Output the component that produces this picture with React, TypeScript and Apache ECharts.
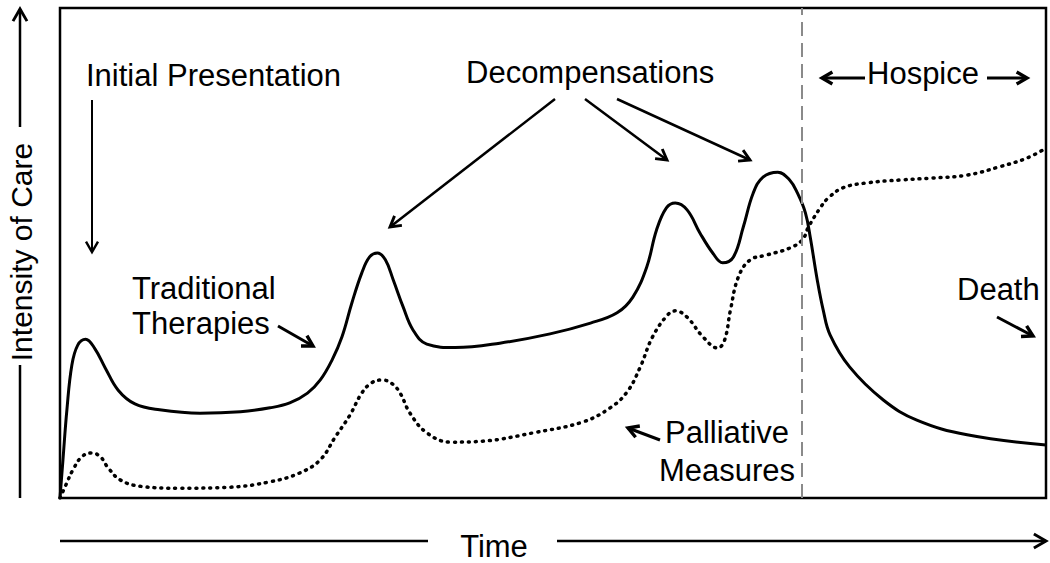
import { useEffect, useRef } from "react";
import * as echarts from "echarts";

// Time (0-100) and intensity of care (0-100)
const traditionalTime = [
  0, 0.3, 0.7, 1.2, 1.8, 2.6, 3.5, 4.6, 5.9, 7.6, 10.1, 14.2, 18.3, 21.3, 23.3, 25.1, 26.4,
  27.6, 28.6, 29.6, 30.6, 31.4, 32.2, 33.0, 33.8, 34.8, 35.8, 37.2, 40.1, 44.6, 49.7,
  53.8, 56.5, 58.1, 59.5, 60.5, 61.5, 62.4, 63.6, 64.9, 66.2, 67.2, 68.3, 69.3, 70.3, 71.3,
  72.8, 74.0, 74.8, 75.6, 76.1, 76.8, 77.4, 78.1, 80.1, 83.5, 86.9, 92.0, 100,
];
const traditionalCare = [
  0, 7.8, 18.0, 27.1, 31.2, 32.4, 30.6, 26.5, 22.0, 19.2, 18.0, 17.3, 17.6, 18.4, 19.4, 21.4, 24.1,
  28.2, 32.9, 39.8, 45.9, 49.2, 50.0, 48.6, 44.5, 39.0, 34.3, 31.4, 30.7, 31.6, 33.5,
  35.7, 37.8, 41.0, 47.1, 54.7, 59.2, 60.2, 58.8, 54.1, 50.0, 48.0, 49.2, 55.3, 62.2, 65.5,
  66.5, 64.9, 62.2, 58.2, 53.1, 44.5, 38.4, 33.3, 26.7, 20.0, 15.9, 12.9, 10.8,
];
const palliativeTime = [
  0, 0.6, 1.3, 2.2, 3.2, 4.1, 4.9, 6.1, 8.1, 12.2, 17.2, 21.3, 24.3, 26.4, 27.9, 29.4, 30.6,
  31.6, 32.7, 33.7, 34.5, 35.5, 37.2, 39.6, 42.9, 48.0, 53.0, 55.8, 57.5, 58.8, 60.1, 61.6,
  62.4, 63.6, 65.2, 66.7, 67.4, 68.0, 68.8, 70.0, 71.7, 74.0, 75.3, 75.9, 77.1, 77.9, 79.4,
  81.8, 85.2, 88.5, 92.0, 95.3, 98.1, 100,
];
const palliativeCare = [
  0, 2.7, 5.7, 8.4, 9.2, 8.4, 6.1, 3.7, 2.4, 2.0, 2.2, 3.3, 5.1, 7.8, 12.4, 16.9, 21.4,
  23.5, 24.1, 23.3, 21.4, 17.3, 13.3, 11.4, 11.6, 13.3, 15.5, 18.4, 21.6, 26.5, 32.9, 37.3,
  38.2, 36.9, 32.9, 30.6, 32.2, 38.4, 45.1, 48.6, 49.6, 51.0, 52.7, 55.3, 59.2, 61.2, 63.3,
  64.3, 64.9, 65.3, 65.9, 67.6, 69.4, 71.4,
];
const hospiceStart = 75.2;

const FONT = '"Liberation Sans", Arial, Helvetica, sans-serif';

function arrow(x1: number, y1: number, x2: number, y2: number, w = 2.2, head = 12): any[] {
  const ang = Math.atan2(y2 - y1, x2 - x1);
  const a = Math.PI / 6;
  const p1 = [x2 - head * Math.cos(ang - a), y2 - head * Math.sin(ang - a)];
  const p2 = [x2 - head * Math.cos(ang + a), y2 - head * Math.sin(ang + a)];
  return [
    { type: "line", silent: true, shape: { x1, y1, x2, y2 }, style: { stroke: "#000", lineWidth: w } },
    {
      type: "polyline",
      silent: true,
      shape: { points: [p1, [x2, y2], p2] },
      style: { stroke: "#000", lineWidth: w + 0.4, fill: null, lineJoin: "miter" },
    },
  ];
}

function line(x1: number, y1: number, x2: number, y2: number, w = 2.5): any {
  return { type: "line", silent: true, shape: { x1, y1, x2, y2 }, style: { stroke: "#000", lineWidth: w } };
}

function label(text: string, x: number, y: number, align = "left", size = 31, rotation = 0): any {
  return {
    type: "text",
    silent: true,
    x,
    y,
    rotation,
    style: {
      text,
      fontFamily: FONT,
      fontSize: size,
      fill: "#000",
      align,
      verticalAlign: "middle",
    },
  };
}

export default function App() {
  const ref = useRef<HTMLDivElement>(null);

  useEffect(() => {
    if (!ref.current) return;
    const chart = echarts.init(ref.current, null, { renderer: "svg" });
    const solid = traditionalTime.map((t, i) => [t, traditionalCare[i]]);
    const dotted = palliativeTime.map((t, i) => [t, palliativeCare[i]]);

    const graphic: any[] = [
      label("Initial Presentation", 86, 75),
      label("Decompensations", 466, 72),
      label("Hospice", 867, 73),
      label("Traditional", 132, 288),
      label("Therapies", 132, 323),
      label("Death", 957, 289),
      label("Palliative", 727, 432, "center"),
      label("Measures", 727, 470, "center"),
      label("Time", 494, 546, "center", 31),
      label("Intensity of Care", 21, 252, "center", 30, Math.PI / 2),
      ...arrow(92, 100, 92, 252, 2),
      ...arrow(555, 99, 390, 227, 2.5),
      ...arrow(585, 99, 667, 160, 2.5),
      ...arrow(617, 99, 750, 160, 2.5),
      ...arrow(865, 78, 822, 78, 3),
      ...arrow(987, 78, 1027, 78, 3),
      ...arrow(278, 326, 313, 346, 3),
      ...arrow(660, 440, 628, 428, 3),
      ...arrow(997, 317, 1033, 336, 3),
      line(60, 541, 428, 541, 2.5),
      ...arrow(557, 541, 1046, 541, 2.5, 14),
      line(20, 498, 20, 365, 2.5),
      ...arrow(20, 127, 20, 9, 2.5, 14),
    ];

    chart.setOption({
      animation: false,
      grid: {
        left: 60,
        top: 8,
        right: 4,
        bottom: 65,
        show: true,
        borderColor: "#000",
        borderWidth: 2.5,
        backgroundColor: "transparent",
      },
      xAxis: { type: "value", min: 0, max: 100, show: false },
      yAxis: { type: "value", min: 0, max: 100, show: false },
      series: [
        {
          name: "Traditional Therapies",
          type: "line",
          data: solid,
          smooth: 0.4,
          symbol: "none",
          lineStyle: { color: "#000", width: 3 },
          z: 3,
        },
        {
          name: "Palliative Measures",
          type: "line",
          data: dotted,
          smooth: 0.4,
          symbol: "none",
          lineStyle: { color: "#000", width: 3.5, type: [1, 6], cap: "round" },
          z: 2,
          markLine: {
            silent: true,
            symbol: ["none", "none"],
            label: { show: false },
            lineStyle: { color: "#8a8a8a", type: [14, 7], width: 2 },
            data: [{ xAxis: hospiceStart }],
          },
        },
      ],
      graphic,
    });

    return () => chart.dispose();
  }, []);

  return (
    <div
      ref={ref}
      style={{ position: "fixed", left: 0, top: 0, width: 1050, height: 563, background: "#fff" }}
    />
  );
}
